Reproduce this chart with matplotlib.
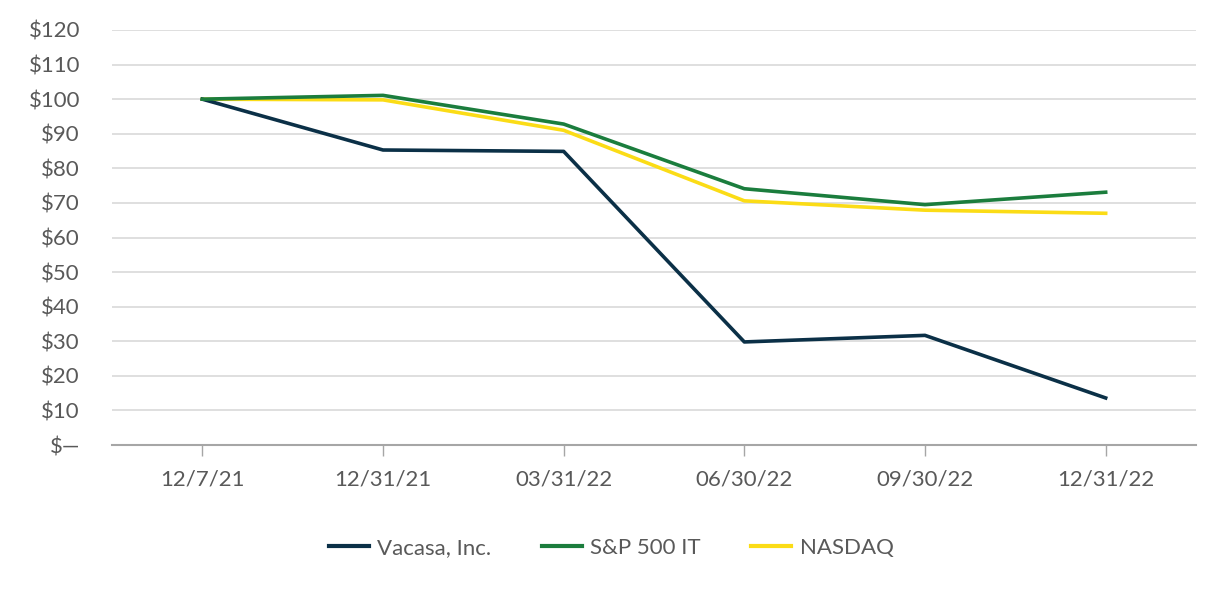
import matplotlib
matplotlib.use("Agg")
import matplotlib.pyplot as plt

categories = ["12/7/21", "12/31/21", "03/31/22", "06/30/22", "09/30/22", "12/31/22"]
vacasa = [100.0, 85.3, 84.9, 29.8, 31.7, 13.6]
sp500_it = [100.0, 101.1, 92.8, 74.1, 69.5, 73.1]
nasdaq = [100.0, 99.8, 91.0, 70.6, 67.9, 67.0]
series_names = ["Vacasa, Inc.", "S&P 500 IT", "NASDAQ"]
y_ticks = list(range(0, 130, 10))
y_labels = ["$\u2014"] + [f"${v}" for v in y_ticks[1:]]

plt.rcParams['font.family'] = ['Lato', 'DejaVu Sans']
text_color = "#595959"

fig = plt.figure(figsize=(12.26, 6.0), dpi=100)
ax = fig.add_axes([112/1226, 1-445/600, (1196-112)/1226, (445-30)/600])

x = list(range(len(categories)))
ax.plot(x, vacasa, color="#0b3047", lw=2.6, label=series_names[0], zorder=3)
ax.plot(x, sp500_it, color="#1b7d3d", lw=2.6, label=series_names[1], zorder=3)
ax.plot(x, nasdaq, color="#fbdc16", lw=2.6, label=series_names[2], zorder=2)

ax.set_xlim(-0.5, len(categories) - 0.5)
ax.set_ylim(0, 120)
ax.set_yticks(y_ticks)
ax.set_yticklabels(y_labels)
ax.set_xticks(x)
ax.set_xticklabels(categories)
ax.yaxis.grid(True, color="#d9d9d9", lw=1.2)
ax.set_axisbelow(True)
for s in ["top", "right", "left"]:
    ax.spines[s].set_visible(False)
ax.spines["bottom"].set_color("#a6a6a6")
ax.spines["bottom"].set_linewidth(1.5)
ax.tick_params(axis="y", length=0, pad=23, labelsize=16, labelcolor=text_color)
ax.tick_params(axis="x", length=8, width=1, color="#a6a6a6", pad=10, labelsize=16, labelcolor=text_color)

leg = fig.legend(loc="center", bbox_to_anchor=(0.4985, 1-548/600), ncol=3, frameon=False,
                 fontsize=16, labelcolor=text_color, handlelength=1.8, columnspacing=2.25,
                 handletextpad=0.4)
for line in leg.get_lines():
    line.set_linewidth(3.0)

fig.savefig("out.png", dpi=100)
